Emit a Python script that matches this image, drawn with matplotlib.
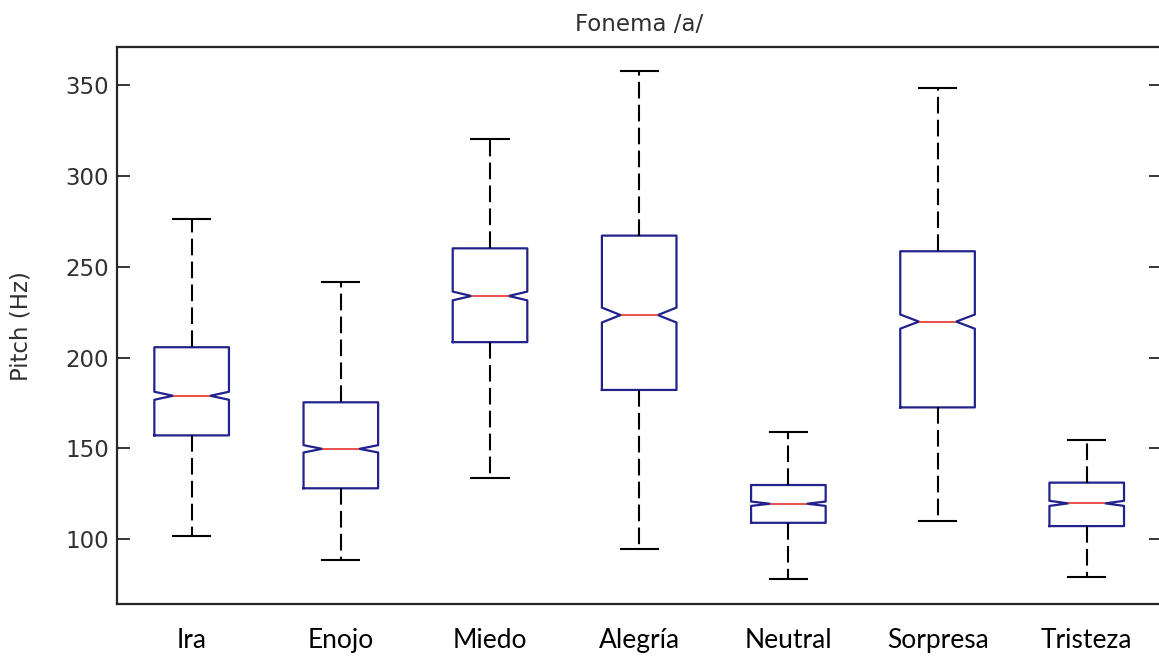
import numpy as np
import matplotlib
matplotlib.use('Agg')
import matplotlib.pyplot as plt

plt.rcParams['font.family'] = 'DejaVu Sans'

# estadisticos del pitch (Hz) por emocion, fonema /a/
categorias = ['Ira', 'Enojo', 'Miedo', 'Alegría', 'Neutral', 'Sorpresa', 'Tristeza']
q1 = [157.2, 128.1, 208.5, 182.2, 109.1, 172.6, 107.3]
mediana = [179.0, 149.8, 233.9, 223.4, 119.6, 219.8, 119.8]
q3 = [205.7, 175.4, 260.1, 267.1, 129.9, 258.5, 131.2]
bigote_inf = [101.8, 88.4, 133.9, 94.5, 78.0, 110.3, 79.1]
bigote_sup = [276.3, 241.4, 320.1, 357.9, 159.2, 348.2, 154.6]
muesca_inf = [176.8, 147.8, 231.5, 219.3, 118.4, 215.9, 118.4]
muesca_sup = [181.2, 151.8, 236.3, 227.5, 120.8, 223.7, 121.2]
yticks = [100, 150, 200, 250, 300, 350]

stats = []
for i, nombre in enumerate(categorias):
    stats.append(dict(label=nombre, q1=q1[i], med=mediana[i], q3=q3[i],
                      whislo=bigote_inf[i], whishi=bigote_sup[i],
                      cilo=muesca_inf[i], cihi=muesca_sup[i], fliers=[]))

texto = '#303030'
fig = plt.figure(figsize=(11.59, 6.57), dpi=100)
ax = fig.add_axes([0.101, 0.080, 0.901, 0.848])

ax.bxp(stats, positions=np.arange(1, len(categorias) + 1), widths=0.5,
       shownotches=True, showfliers=False,
       boxprops=dict(color='#22228c', linewidth=1.6),
       medianprops=dict(color='#e8413c', linewidth=1.3),
       whiskerprops=dict(color='black', linewidth=1.5, linestyle=(0, (8, 3))),
       capprops=dict(color='black', linewidth=1.5))

ax.set_xlim(0.5, 7.5)
ax.set_ylim(64.2, 370.7)
ax.set_yticks(yticks)
ax.set_yticklabels([str(v) for v in yticks], fontsize=16.5, color=texto)
ax.tick_params(axis='y', direction='in', left=True, right=True, length=9,
               width=1.3, color='#262626', pad=6)
ax.set_xticks(np.arange(1, len(categorias) + 1))
ax.set_xticklabels(categorias, fontsize=19, family='Lato', color='black')
ax.tick_params(axis='x', length=0, pad=17)

for lado in ax.spines.values():
    lado.set_linewidth(1.6)
    lado.set_color('#262626')

ax.set_ylabel('Pitch (Hz)', fontsize=16.5, color=texto)
ax.yaxis.set_label_coords(-0.0805, 0.5)
ax.set_title('Fonema /a/', fontsize=16.5, color=texto, pad=12)

plt.savefig('out.png', dpi=100)
